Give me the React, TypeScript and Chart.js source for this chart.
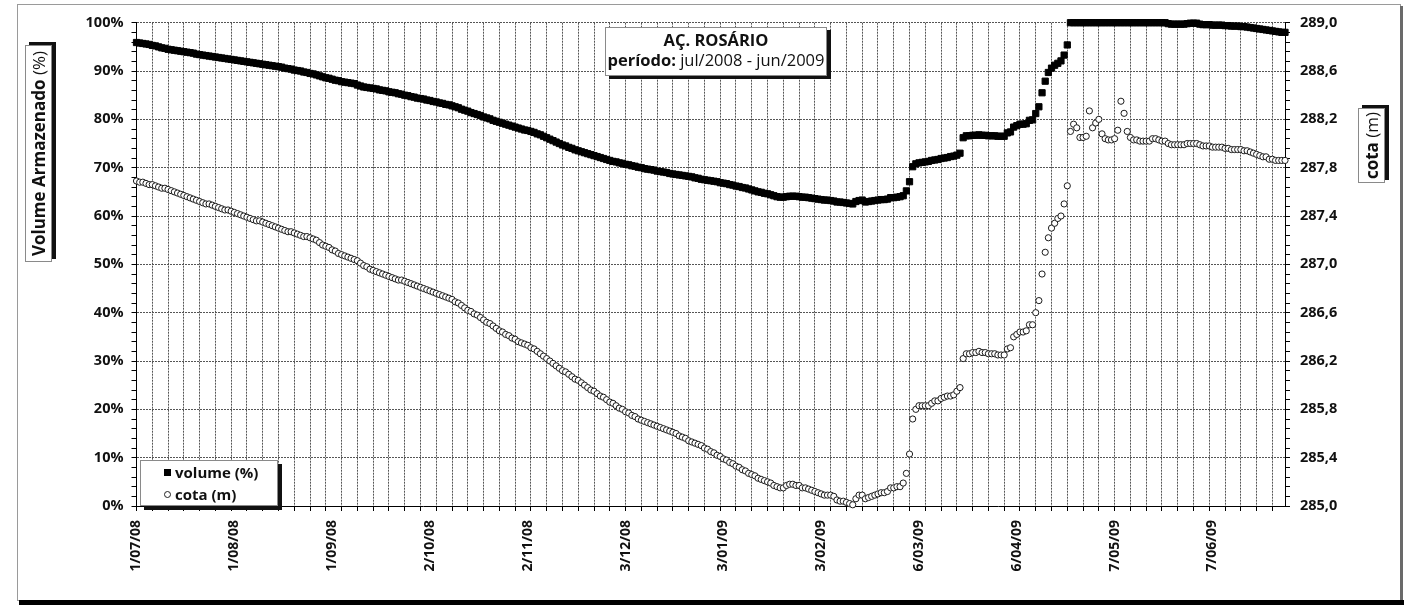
import React, { useEffect, useRef } from 'react';
import { Chart, registerables } from 'chart.js';

Chart.register(...registerables);

// Daily readings from 1/07/08 (index 0) to 30/06/09 (index 364)
const volume: number[] = [
  95.9, 95.8, 95.7, 95.6, 95.5, 95.3, 95.2, 95.0, 94.8, 94.7,
  94.5, 94.4, 94.3, 94.2, 94.1, 94.0, 93.9, 93.8, 93.7, 93.5,
  93.4, 93.3, 93.2, 93.1, 93.0, 92.9, 92.8, 92.7, 92.6, 92.5,
  92.4, 92.3, 92.2, 92.1, 92.0, 91.9, 91.8, 91.7, 91.6, 91.5,
  91.4, 91.3, 91.2, 91.1, 91.0, 90.9, 90.8, 90.6, 90.5, 90.4,
  90.2, 90.1, 90.0, 89.8, 89.7, 89.5, 89.4, 89.2, 89.0, 88.8,
  88.6, 88.5, 88.3, 88.1, 88.0, 87.8, 87.7, 87.6, 87.5, 87.4,
  87.1, 86.9, 86.7, 86.6, 86.5, 86.4, 86.3, 86.1, 86.0, 85.9,
  85.7, 85.6, 85.5, 85.3, 85.2, 85.0, 84.9, 84.7, 84.6, 84.4,
  84.3, 84.2, 84.0, 83.9, 83.7, 83.6, 83.4, 83.3, 83.1, 83.0,
  82.8, 82.6, 82.4, 82.1, 81.9, 81.7, 81.4, 81.2, 81.0, 80.8,
  80.5, 80.3, 80.1, 79.8, 79.6, 79.4, 79.2, 79.0, 78.8, 78.6,
  78.4, 78.2, 78.0, 77.8, 77.7, 77.5, 77.3, 77.0, 76.8, 76.5,
  76.2, 75.9, 75.6, 75.3, 75.0, 74.7, 74.5, 74.2, 74.0, 73.7,
  73.5, 73.3, 73.1, 72.9, 72.7, 72.5, 72.3, 72.1, 71.9, 71.7,
  71.5, 71.3, 71.2, 71.0, 70.9, 70.7, 70.6, 70.4, 70.3, 70.1,
  70.0, 69.8, 69.7, 69.6, 69.5, 69.3, 69.2, 69.1, 69.0, 68.8,
  68.7, 68.6, 68.5, 68.4, 68.3, 68.2, 68.1, 67.9, 67.8, 67.6,
  67.5, 67.4, 67.3, 67.2, 67.1, 66.9, 66.8, 66.7, 66.5, 66.4,
  66.2, 66.1, 65.9, 65.8, 65.6, 65.4, 65.2, 65.0, 64.9, 64.7,
  64.6, 64.4, 64.2, 64.0, 63.9, 63.9, 64.0, 64.1, 64.1, 64.1,
  64.0, 63.9, 63.9, 63.8, 63.7, 63.6, 63.5, 63.4, 63.3, 63.3,
  63.2, 63.1, 62.9, 62.9, 62.8, 62.7, 62.6, 62.5, 63.0, 63.2,
  63.3, 62.9, 63.0, 63.1, 63.2, 63.3, 63.4, 63.4, 63.5, 63.8,
  63.8, 63.9, 64.0, 64.2, 65.2, 67.1, 70.2, 70.8, 71.0, 71.1,
  71.2, 71.3, 71.5, 71.6, 71.7, 71.9, 72.0, 72.1, 72.3, 72.4,
  72.6, 73.0, 76.2, 76.6, 76.6, 76.7, 76.7, 76.8, 76.7, 76.7,
  76.6, 76.6, 76.6, 76.5, 76.5, 76.5, 77.2, 77.4, 78.4, 78.7,
  79.0, 79.0, 79.1, 79.8, 79.9, 81.2, 82.6, 85.5, 87.9, 89.7,
  90.6, 91.2, 91.6, 92.1, 93.3, 95.4, 100, 100, 100, 100,
  100, 100, 100, 100, 100, 100, 100, 100, 100, 100,
  100, 100, 100, 100, 100, 100, 100, 100, 100, 100,
  100, 100, 100, 100, 100, 100, 100, 99.8, 99.7, 99.7,
  99.7, 99.7, 99.7, 99.8, 99.9, 99.9, 99.9, 99.7, 99.6, 99.6,
  99.6, 99.5, 99.5, 99.5, 99.5, 99.4, 99.4, 99.3, 99.3, 99.3,
  99.2, 99.2, 99.1, 99.0, 98.9, 98.8, 98.7, 98.6, 98.5, 98.4,
  98.3, 98.2, 98.1, 98.0, 98.0,
];

const cota: number[] = [
  287.69, 287.68, 287.68, 287.67, 287.66, 287.66, 287.65, 287.64, 287.63, 287.63,
  287.62, 287.61, 287.60, 287.59, 287.58, 287.57, 287.56, 287.55, 287.54, 287.53,
  287.52, 287.51, 287.50, 287.50, 287.49, 287.48, 287.47, 287.46, 287.45, 287.45,
  287.44, 287.43, 287.42, 287.41, 287.40, 287.39, 287.38, 287.37, 287.36, 287.36,
  287.35, 287.34, 287.33, 287.32, 287.31, 287.30, 287.29, 287.28, 287.27, 287.27,
  287.26, 287.25, 287.24, 287.23, 287.23, 287.22, 287.21, 287.20, 287.18, 287.16,
  287.15, 287.14, 287.12, 287.11, 287.09, 287.08, 287.07, 287.06, 287.05, 287.04,
  287.03, 287.01, 286.99, 286.98, 286.96, 286.95, 286.94, 286.93, 286.92, 286.91,
  286.90, 286.89, 286.88, 286.87, 286.87, 286.86, 286.85, 286.84, 286.83, 286.82,
  286.81, 286.80, 286.79, 286.78, 286.77, 286.76, 286.75, 286.74, 286.73, 286.72,
  286.71, 286.69, 286.68, 286.66, 286.64, 286.62, 286.61, 286.59, 286.58, 286.56,
  286.54, 286.52, 286.51, 286.49, 286.47, 286.45, 286.44, 286.42, 286.41, 286.39,
  286.38, 286.36, 286.35, 286.34, 286.33, 286.31, 286.30, 286.28, 286.26, 286.24,
  286.22, 286.20, 286.18, 286.16, 286.14, 286.12, 286.11, 286.09, 286.07, 286.05,
  286.04, 286.02, 286.00, 285.98, 285.96, 285.95, 285.93, 285.91, 285.90, 285.88,
  285.86, 285.85, 285.83, 285.81, 285.80, 285.78, 285.77, 285.75, 285.74, 285.72,
  285.71, 285.70, 285.69, 285.68, 285.67, 285.66, 285.65, 285.64, 285.63, 285.62,
  285.61, 285.60, 285.58, 285.57, 285.56, 285.54, 285.53, 285.52, 285.51, 285.50,
  285.48, 285.47, 285.45, 285.44, 285.42, 285.41, 285.39, 285.38, 285.36, 285.35,
  285.33, 285.32, 285.30, 285.29, 285.27, 285.26, 285.25, 285.23, 285.22, 285.21,
  285.20, 285.19, 285.17, 285.16, 285.15, 285.15, 285.17, 285.18, 285.18, 285.17,
  285.17, 285.15, 285.15, 285.14, 285.13, 285.12, 285.11, 285.10, 285.09, 285.09,
  285.09, 285.08, 285.05, 285.04, 285.04, 285.03, 285.02, 285.01, 285.06, 285.09,
  285.09, 285.06, 285.07, 285.08, 285.09, 285.10, 285.11, 285.11, 285.12, 285.15,
  285.15, 285.16, 285.16, 285.19, 285.27, 285.43, 285.72, 285.80, 285.83, 285.83,
  285.83, 285.83, 285.85, 285.87, 285.87, 285.89, 285.90, 285.91, 285.91, 285.92,
  285.95, 285.98, 286.22, 286.26, 286.26, 286.27, 286.27, 286.28, 286.27, 286.27,
  286.26, 286.26, 286.26, 286.25, 286.25, 286.25, 286.30, 286.31, 286.40, 286.42,
  286.44, 286.44, 286.45, 286.50, 286.50, 286.60, 286.70, 286.92, 287.10, 287.22,
  287.30, 287.34, 287.38, 287.40, 287.50, 287.65, 288.10, 288.16, 288.13, 288.05,
  288.05, 288.06, 288.27, 288.13, 288.17, 288.20, 288.08, 288.04, 288.03, 288.03,
  288.04, 288.11, 288.35, 288.25, 288.10, 288.05, 288.03, 288.03, 288.02, 288.02,
  288.02, 288.02, 288.04, 288.04, 288.03, 288.02, 288.02, 288.00, 287.99, 287.99,
  287.99, 287.99, 287.99, 288.00, 288.00, 288.00, 288.00, 287.99, 287.98, 287.98,
  287.98, 287.97, 287.97, 287.97, 287.97, 287.96, 287.96, 287.95, 287.95, 287.95,
  287.95, 287.94, 287.94, 287.93, 287.92, 287.91, 287.90, 287.89, 287.89, 287.87,
  287.87, 287.86, 287.86, 287.86, 287.86,
];

const xLabels = ['1/07/08', '1/08/08', '1/09/08', '2/10/08', '2/11/08', '3/12/08', '3/01/09', '3/02/09', '6/03/09', '6/04/09', '7/05/09', '7/06/09'];
const xLabelDays = [0, 31, 62, 93, 124, 155, 186, 217, 248, 279, 310, 341];
const yLeftLabels = ['0%', '10%', '20%', '30%', '40%', '50%', '60%', '70%', '80%', '90%', '100%'];
const yRightLabels = ['285,0', '285,4', '285,8', '286,2', '286,6', '287,0', '287,4', '287,8', '288,2', '288,6', '289,0'];

const FONT = '"Open Sans", "DejaVu Sans", sans-serif';
const GRID = '#555555';
const TXT = '#111111';

const xGridDays: number[] = [];
for (let d = 0; d <= 360; d += 5) xGridDays.push(d);
const xTickDays = Array.from(new Set([...xGridDays, ...xLabelDays])).sort((a, b) => a - b);

export default function App() {
  const ref = useRef<HTMLCanvasElement | null>(null);

  useEffect(() => {
    if (!ref.current) return;
    const chart = new Chart(ref.current, {
      type: 'scatter',
      data: {
        datasets: [
          {
            label: 'volume (%)',
            data: volume.map((v, i) => ({ x: i, y: v })),
            yAxisID: 'y',
            pointStyle: 'rect',
            pointRadius: 4.4,
            pointBackgroundColor: '#000',
            pointBorderColor: '#000',
            pointBorderWidth: 1,
            showLine: false,
            clip: false,
            order: 2,
          },
          {
            label: 'cota (m)',
            data: cota.map((v, i) => ({ x: i, y: v })),
            yAxisID: 'y2',
            pointStyle: 'circle',
            pointRadius: 3.1,
            pointBackgroundColor: '#fff',
            pointBorderColor: '#1a1a1a',
            pointBorderWidth: 1,
            showLine: false,
            clip: false,
            order: 1,
          },
        ],
      },
      options: {
        responsive: false,
        animation: false,
        devicePixelRatio: 1,
        events: [],
        layout: { padding: { top: 22.7, left: 0, right: 0, bottom: 0 } },
        plugins: { legend: { display: false }, tooltip: { enabled: false }, title: { display: false } },
        scales: {
          x: {
            type: 'linear',
            position: 'bottom',
            min: 0,
            max: 364,
            afterBuildTicks: (s: any) => { s.ticks = xTickDays.map((v) => ({ value: v })); },
            afterFit: (s: any) => { s.height = 99; },
            grid: {
              color: (c: any) => (c.tick && c.tick.value % 5 === 0 && c.tick.value !== 0 ? GRID : 'rgba(0,0,0,0)'),
              tickColor: (c: any) => (c.tick && c.tick.value % 5 === 0 ? '#000' : 'rgba(0,0,0,0)'),
              lineWidth: 1,
              tickLength: 5,
            },
            border: { display: true, color: '#000', width: 1, dash: [2, 1] },
            ticks: {
              autoSkip: false,
              minRotation: 90,
              maxRotation: 90,
              padding: 9,
              color: TXT,
              font: { family: FONT, size: 14, weight: 'bold' },
              callback: (v: any) => {
                const i = xLabelDays.indexOf(Number(v));
                return i >= 0 ? xLabels[i] : '';
              },
            },
          },
          y: {
            type: 'linear',
            position: 'left',
            min: 0,
            max: 100,
            afterBuildTicks: (s: any) => {
              const t = [];
              for (let k = 0; k <= 50; k++) t.push({ value: k * 2 });
              s.ticks = t;
            },
            afterFit: (s: any) => { s.width = 136.5; },
            grid: {
              color: (c: any) => (c.tick && c.index % 5 === 0 && c.index !== 0 ? GRID : 'rgba(0,0,0,0)'),
              tickColor: '#000',
              lineWidth: 1,
              tickLength: 5,
            },
            border: { display: true, color: '#000', width: 1, dash: [2, 1] },
            ticks: {
              autoSkip: false,
              padding: 8,
              color: TXT,
              font: { family: FONT, size: 14.5, weight: 'bold' },
              callback: (_v: any, i: number) => (i % 5 === 0 ? yLeftLabels[i / 5] : ''),
            },
          },
          y2: {
            type: 'linear',
            position: 'right',
            min: 285,
            max: 289,
            afterBuildTicks: (s: any) => {
              const t = [];
              for (let k = 0; k <= 50; k++) t.push({ value: Math.round((285 + k * 0.08) * 1000) / 1000 });
              s.ticks = t;
            },
            afterFit: (s: any) => { s.width = 135; },
            grid: {
              drawOnChartArea: false,
              color: 'rgba(0,0,0,0)',
              tickColor: '#000',
              lineWidth: 1,
              tickLength: 5,
            },
            border: { display: true, color: '#000', width: 1 },
            ticks: {
              autoSkip: false,
              padding: 10,
              color: TXT,
              font: { family: FONT, size: 14.5, weight: 'bold' },
              callback: (_v: any, i: number) => (i % 5 === 0 ? yRightLabels[i / 5] : ''),
            },
          },
        },
      } as any,
    });
    return () => chart.destroy();
  }, []);

  const boxBase: React.CSSProperties = {
    position: 'absolute',
    background: '#fff',
    border: '1px solid #8a8a8a',
    boxSizing: 'border-box',
    fontFamily: FONT,
    color: TXT,
    zIndex: 2,
  };

  return (
    <div style={{ position: 'absolute', left: 0, top: 0, width: 1420, height: 605, background: '#fff', overflow: 'hidden' }}>
      {/* outer frame */}
      <div style={{ position: 'absolute', left: 17, top: 4, width: 1384, height: 597, border: '1px solid #9a9a9a', boxSizing: 'border-box' }} />
      <div style={{ position: 'absolute', left: 1400, top: 6, width: 3, height: 595, background: '#6a6a6a' }} />
      <div style={{ position: 'absolute', left: 19, top: 600, width: 1385, height: 5, background: '#000' }} />

      <canvas ref={ref} width={1420} height={605} style={{ position: 'absolute', left: 0, top: 0, width: 1420, height: 605, zIndex: 1 }} />

      {/* title */}
      <div style={{ ...boxBase, left: 605, top: 27, width: 222, height: 49, boxShadow: '4px 3px 0 #111', textAlign: 'center', fontSize: 16.5 }}>
        <div style={{ fontWeight: 700, lineHeight: '20px', marginTop: 2 }}>AÇ. ROSÁRIO</div>
        <div style={{ lineHeight: '20px', whiteSpace: 'nowrap' }}><b>período:</b> jul/2008 - jun/2009</div>
      </div>

      {/* legend */}
      <div style={{ ...boxBase, left: 140, top: 460, width: 138, height: 46, boxShadow: '4px 4px 0 #111', fontSize: 15, fontWeight: 700 }}>
        <div style={{ display: 'flex', alignItems: 'center', height: 22 }}>
          <span style={{ display: 'inline-block', width: 7, height: 7, background: '#000', marginLeft: 23, marginRight: 4 }} />
          <span>volume (%)</span>
        </div>
        <div style={{ display: 'flex', alignItems: 'center', height: 22 }}>
          <span style={{ display: 'inline-block', width: 7, height: 7, border: '1px solid #222', borderRadius: '50%', boxSizing: 'border-box', marginLeft: 23, marginRight: 4 }} />
          <span>cota (m)</span>
        </div>
      </div>

      {/* left axis title */}
      <div style={{ ...boxBase, left: 25, top: 45, width: 27, height: 217, boxShadow: '4px -3px 0 #111', display: 'flex', alignItems: 'center', justifyContent: 'center' }}>
        <span style={{ writingMode: 'vertical-rl', transform: 'rotate(180deg)', fontSize: 17, whiteSpace: 'nowrap', lineHeight: '20px' }}>
          <b>Volume Armazenado</b> (%)
        </span>
      </div>

      {/* right axis title */}
      <div style={{ ...boxBase, left: 1358, top: 108, width: 27, height: 75, boxShadow: '4px -3px 0 #111', display: 'flex', alignItems: 'center', justifyContent: 'center' }}>
        <span style={{ writingMode: 'vertical-rl', transform: 'rotate(180deg)', fontSize: 17, whiteSpace: 'nowrap', lineHeight: '20px' }}>
          <b>cota</b> (m)
        </span>
      </div>
    </div>
  );
}
